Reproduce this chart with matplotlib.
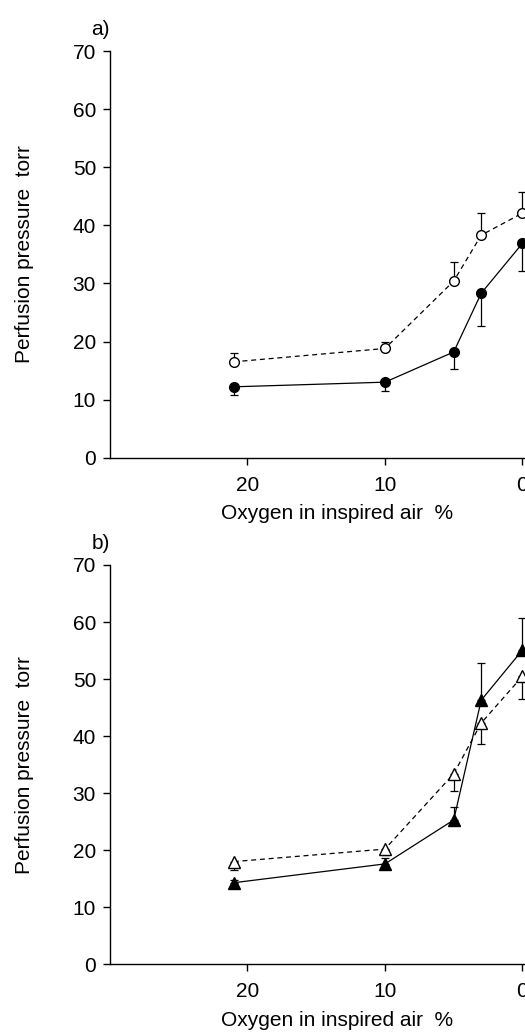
import matplotlib.pyplot as plt

plt.rcParams['font.family'] = ['Liberation Sans Narrow', 'Liberation Sans', 'DejaVu Sans']

# === Data ===
oxygen = [21, 10, 5, 3, 0]

# panel a) circles
a_open = [16.5, 18.8, 30.4, 38.3, 42.1]
a_open_err = [1.5, 1.2, 3.2, 3.9, 3.7]       # upper only
a_filled = [12.2, 13.0, 18.2, 28.3, 36.9]
a_filled_err = [1.4, 1.5, 2.9, 5.6, 4.8]     # lower only

# panel b) triangles
b_open = [18.0, 20.2, 33.4, 42.3, 50.5]
b_open_err = [1.5, 1.0, 3.1, 3.6, 4.0]       # lower only
b_filled = [14.3, 17.6, 25.3, 46.3, 55.1]
b_filled_err = [0.5, 1.0, 2.3, 6.6, 5.6]     # upper only

yticks = [0, 10, 20, 30, 40, 50, 60, 70]
xticks = [20, 10, 0]

FS = 15

W, H = 525, 1035
fig = plt.figure(figsize=(W / 100, H / 100), dpi=100)

# axes placed in pixels; right edge runs past the figure like the clipped original
def px_axes(left, top, bottom, right):
    return fig.add_axes([left / W, 1 - bottom / H, (right - left) / W, (bottom - top) / H])

ax_a = px_axes(110, 51, 457.7, 563.7)
ax_b = px_axes(110, 565, 964.3, 563.7)


def style(ax, label):
    ax.set_xlim(30, -3)
    ax.set_ylim(0, 70)
    ax.set_xticks(xticks)
    ax.set_yticks(yticks)
    for s in ['top', 'right']:
        ax.spines[s].set_visible(False)
    ax.spines['left'].set_linewidth(1.0)
    ax.spines['bottom'].set_linewidth(1.0)
    ax.tick_params(axis='both', direction='out', length=5, width=1.0, labelsize=FS)
    ax.tick_params(axis='y', pad=5)
    ax.tick_params(axis='x', pad=8)
    ax.set_xlabel("Oxygen in inspired air  %", fontsize=FS, labelpad=7)
    ax.set_ylabel("Perfusion pressure  torr", fontsize=FS, labelpad=28)
    ax.text(0.0, 1.03, label, transform=ax.transAxes, ha='right', va='bottom', fontsize=FS)


err_kw = dict(ecolor='black', elinewidth=0.9, capsize=3.2, capthick=0.9)

# panel a
ax_a.errorbar(oxygen, a_open, yerr=[[0] * 5, a_open_err], fmt='o', color='black',
              mfc='white', mec='black', ms=7, ls=(0, (4, 3)), lw=0.9, **err_kw)
ax_a.errorbar(oxygen, a_filled, yerr=[a_filled_err, [0] * 5], fmt='o', color='black',
              mfc='black', mec='black', ms=7, ls='-', lw=0.9, **err_kw)
style(ax_a, "a)")

# panel b
ax_b.errorbar(oxygen, b_open, yerr=[b_open_err, [0] * 5], fmt='^', color='black',
              mfc='white', mec='black', ms=8, ls=(0, (4, 3)), lw=0.9, **err_kw)
ax_b.errorbar(oxygen, b_filled, yerr=[[0] * 5, b_filled_err], fmt='^', color='black',
              mfc='black', mec='black', ms=8, ls='-', lw=0.9, **err_kw)
style(ax_b, "b)")

for ax in (ax_a, ax_b):
    for line in ax.get_lines():
        line.set_clip_on(False)

plt.savefig("out.png", dpi=100)
